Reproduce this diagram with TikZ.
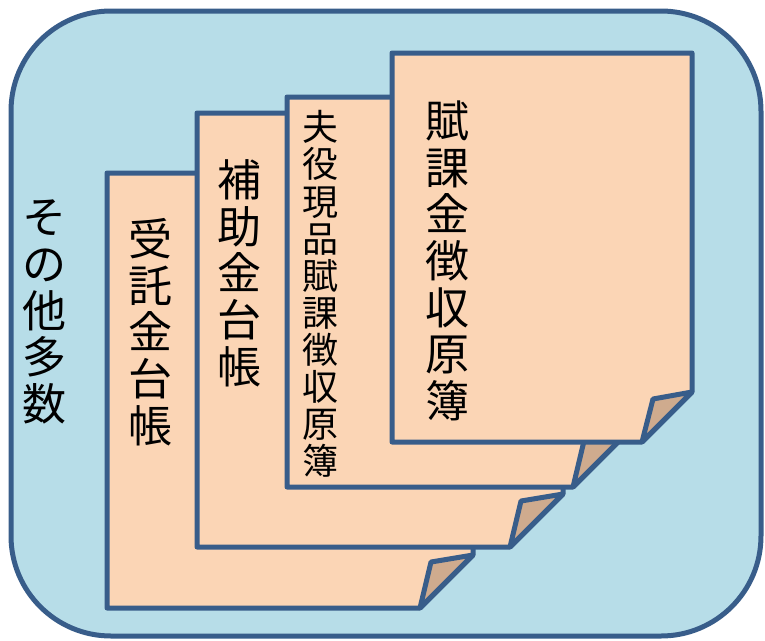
\documentclass[tikz,border=0pt]{standalone}
\usepackage{fontspec}
\newfontfamily\jpfont{Noto Sans CJK JP}
\definecolor{bgblue}{HTML}{B7DDE8}
\definecolor{edgeblue}{HTML}{385D8A}
\definecolor{pagetan}{HTML}{FBD5B5}
\definecolor{foldtan}{HTML}{CFAB8E}
\tikzset{
  outerbox/.style={draw=edgeblue,fill=bgblue,line width=3.75pt,rounded corners=75pt},
  pagebox/.style={draw=edgeblue,fill=pagetan,line width=3.75pt,line join=round},
  foldbox/.style={draw=edgeblue,fill=foldtan,line width=3.75pt,line join=round},
  bigtext/.style={inner sep=0pt,align=center,font=\jpfont\fontsize{33}{35}\selectfont},
  smalltext/.style={inner sep=0pt,align=center,font=\jpfont\fontsize{27}{27.8}\selectfont}
}
\newcommand{\docpage}[5]{%
  \draw[pagebox] (#1,#2) -- (#3,#2) -- (#3,#4-#5) -- (#3-#5,#4) -- (#1,#4) -- cycle;
  \draw[foldbox] (#3-#5,#4) -- (#3-#5+11,#4-#5+7) -- (#3,#4-#5) -- cycle;
}
\begin{document}
\begin{tikzpicture}[x=0.75pt,y=-0.75pt]
\useasboundingbox (0,0) rectangle (765,640);
\draw[outerbox] (11,11) rectangle (761,636);
\docpage{107}{173}{473}{608}{53}
\docpage{197}{113}{563}{547}{53}
\docpage{287}{97}{626}{487}{53}
\docpage{392}{53}{692}{442}{50}
\node[bigtext] (others) at (44,312) {そ\\の\\他\\多\\数};
\node[bigtext] (p1) at (150,332) {受\\託\\金\\台\\帳};
\node[bigtext] (p2) at (239,273) {補\\助\\金\\台\\帳};
\node[smalltext] (p3) at (320,294) {夫\\役\\現\\品\\賦\\課\\徴\\収\\原\\簿};
\node[bigtext] (p4) at (447,261) {賦\\課\\金\\徴\\収\\原\\簿};
\end{tikzpicture}
\end{document}
